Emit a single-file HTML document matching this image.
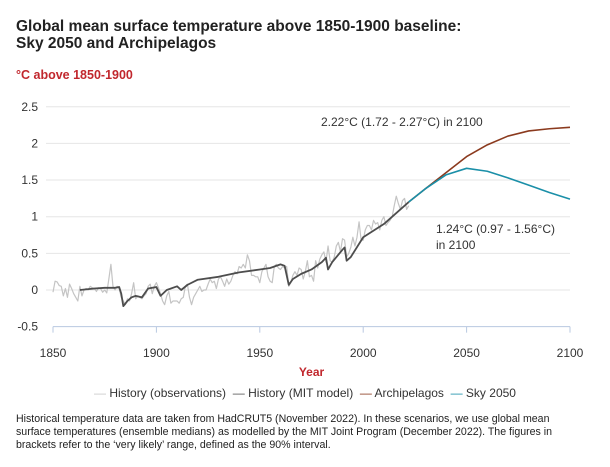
<!DOCTYPE html>
<html><head><meta charset="utf-8"><style>
body{margin:0;background:#fff;font-family:"Liberation Sans",sans-serif;}
#wrap{position:relative;width:610px;height:467px;overflow:hidden;}
.t{position:absolute;white-space:nowrap;}
</style></head><body>
<div id="wrap">
<div class="t" style="left:16px;top:18px;font-size:15.5px;font-weight:bold;color:#222;line-height:17px;">Global mean surface temperature above 1850-1900 baseline:<br>Sky 2050 and Archipelagos</div>
<div class="t" style="left:16px;top:68px;font-size:12.5px;font-weight:bold;color:#c1272d;">°C above 1850-1900</div>
<svg id="chart" width="610" height="467" style="position:absolute;left:0;top:0"></svg>
<div class="t" style="left:0;width:610px;text-align:center;top:386px;font-size:12px;color:#333;">
<span><span style="color:#c8c8c8">—</span> History (observations)</span>&nbsp;
<span><span style="color:#555">—</span> History (MIT model)</span>&nbsp;
<span><span style="color:#8b3a1e">—</span> Archipelagos</span>&nbsp;
<span><span style="color:#1a8fa8">—</span> Sky 2050</span></div>
<div class="t" style="left:16px;top:413px;font-size:10.6px;color:#222;line-height:13px;">Historical temperature data are taken from HadCRUT5 (November 2022). In these scenarios, we use global mean<br>surface temperatures (ensemble medians) as modelled by the MIT Joint Program (December 2022). The figures in<br>brackets refer to the ‘very likely’ range, defined as the 90% interval.</div>
</div>
<script>
const obsStart = 1850;
const obsValues = [-0.03,0.12,0.11,0.06,0.05,-0.08,0.02,-0.1,0.08,0.02,
-0.05,-0.1,-0.15,0.05,-0.08,0.0,0.02,0.0,0.05,0.03,
0.02,-0.02,0.03,0.02,-0.03,0.0,-0.04,0.15,0.35,0.05,
0.0,0.05,0.02,-0.1,-0.15,-0.2,-0.12,-0.15,-0.05,0.1,
-0.12,-0.08,-0.1,-0.12,-0.08,-0.05,0.05,0.08,-0.05,0.05,
0.1,0.03,-0.05,-0.15,-0.2,-0.08,-0.02,-0.18,-0.15,-0.15,
-0.15,-0.18,-0.12,-0.1,0.05,0.08,-0.1,-0.2,-0.1,-0.05,
0.0,0.05,-0.02,0.0,0.0,0.08,0.15,0.1,0.12,0.02,
0.15,0.18,0.12,0.05,0.15,0.08,0.12,0.2,0.25,0.22,
0.32,0.3,0.35,0.3,0.48,0.4,0.2,0.2,0.18,0.18,
0.1,0.25,0.3,0.35,0.18,0.12,0.1,0.32,0.35,0.3,
0.28,0.32,0.3,0.32,0.05,0.1,0.2,0.25,0.2,0.3,
0.28,0.15,0.25,0.4,0.18,0.2,0.12,0.4,0.3,0.42,
0.48,0.52,0.38,0.6,0.4,0.38,0.45,0.6,0.65,0.52,
0.7,0.68,0.45,0.5,0.58,0.72,0.6,0.72,0.93,0.68,
0.68,0.82,0.88,0.88,0.82,0.95,0.9,0.92,0.82,0.95,
1.0,0.88,0.92,0.95,1.0,1.15,1.28,1.18,1.1,1.22,
1.25,1.1,1.15];
const modelYears = [1863,1870,1875,1880,1882,1883,1884,1886,1888,1890,1893,1896,1900,1902,1905,1910,1912,1915,1920,1930,1940,1950,1955,1960,1962,1964,1966,1970,1975,1980,1982,1983,1985,1990,1991,1992,1994,2000,2010,2022];
const modelValues = [0,0.02,0.03,0.03,0.04,-0.05,-0.22,-0.15,-0.1,-0.08,-0.1,0.02,0.04,-0.08,0.0,0.05,0.0,0.07,0.14,0.18,0.24,0.28,0.3,0.35,0.33,0.07,0.15,0.22,0.28,0.38,0.44,0.28,0.38,0.55,0.58,0.4,0.45,0.72,0.9,1.2];
const projYears = [2022,2030,2040,2050,2060,2070,2080,2090,2100];
const archValues = [1.2,1.38,1.6,1.82,1.98,2.1,2.17,2.2,2.22];
const skyValues = [1.2,1.38,1.57,1.66,1.62,1.53,1.43,1.33,1.24];
const yTicks = [2.5,2,1.5,1,0.5,0,-0.5];
const yTickLabels = ["2.5","2","1.5","1","0.5","0","-0.5"];
const xTicks = [1850,1900,1950,2000,2050,2100];

const svg = document.getElementById('chart');
const NS = 'http://www.w3.org/2000/svg';
const x = v => 53 + (v-1850)*(570-53)/250;
const y = v => 290 - v*73.3;
function mk(tag, attrs){const e=document.createElementNS(NS,tag);for(const k in attrs)e.setAttribute(k,attrs[k]);svg.appendChild(e);return e;}
yTicks.forEach((t,i)=>{
  if(t!==-0.5){const g=mk('line',{x1:46,x2:570,y1:y(t),y2:y(t),stroke:'#e6e6e6','stroke-width':1});
  
  }
  const l=mk('text',{x:38,y:y(t)+4,'text-anchor':'end','font-size':12,fill:'#333','font-family':'Liberation Sans, sans-serif'});
  l.textContent=yTickLabels[i];
  
  
});
const ax=mk('line',{x1:53,x2:570,y1:y(-0.5),y2:y(-0.5),stroke:'#b8c8e0','stroke-width':1});


xTicks.forEach(t=>{
  const tk=mk('line',{x1:x(t),x2:x(t),y1:y(-0.5),y2:y(-0.5)+6,stroke:'#b8c8e0'});
  
  
  const l=mk('text',{x:x(t),y:357,'text-anchor':'middle','font-size':12,fill:'#333','font-family':'Liberation Sans, sans-serif'});
  l.textContent=t;
  
  
});
const xt=mk('text',{x:x(1975),y:376,'text-anchor':'middle','font-size':12,'font-weight':'bold',fill:'#c1272d','font-family':'Liberation Sans, sans-serif'});
xt.textContent='Year';


function line(xs,vs,color,w,name){
  const p=mk('polyline',{points:xs.map((a,i)=>x(a)+','+y(vs[i])).join(' '),fill:'none',stroke:color,'stroke-width':w,'stroke-linejoin':'round'});
  
  
}
line(obsValues.map((_,i)=>obsStart+i),obsValues,'#c4c4c4',1.2,'observations-line');
line(modelYears,modelValues,'#4d4d4d',1.8,'mit-model-line');
line(projYears,archValues,'#8b3a1e',1.6,'archipelagos-line');
line(projYears,skyValues,'#1a8fa8',1.6,'sky-2050-line');
function txt(s,xx,yy,name){const t=mk('text',{x:xx,y:yy,'font-size':12,fill:'#333','font-family':'Liberation Sans, sans-serif'});t.textContent=s;

}
txt('2.22°C (1.72 - 2.27°C) in 2100',321,126,'archipelagos-annotation');
txt('1.24°C (0.97 - 1.56°C)',436,233,'sky-annotation');
txt('in 2100',436,249,'sky-annotation-year');
</script>
</body></html>
